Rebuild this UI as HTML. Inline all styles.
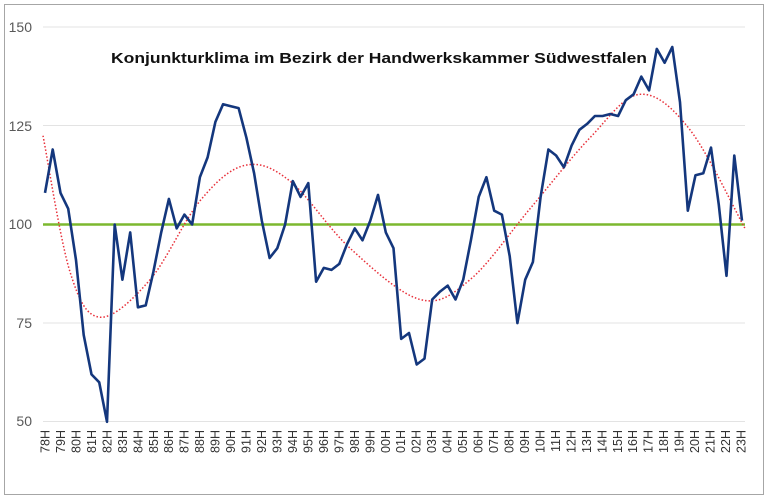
<!DOCTYPE html>
<html><head><meta charset="utf-8"><style>
html,body{margin:0;padding:0;background:#fff;}
svg{display:block;font-family:"Liberation Sans",sans-serif;}
</style></head><body>
<svg id="c" width="768" height="500" viewBox="0 0 768 500" xmlns="http://www.w3.org/2000/svg">
<rect x="4.5" y="4.5" width="759" height="490" fill="#fff" stroke="#a6a6a6" stroke-width="1"/>
<g stroke="#e3e3e3" stroke-width="1">
<line x1="43" y1="27" x2="745" y2="27"/>
<line x1="43" y1="125.5" x2="745" y2="125.5"/>
<line x1="43" y1="323" x2="745" y2="323"/>
<line x1="43" y1="421.5" x2="745" y2="421.5"/>
</g>
<g fill="#595959" font-size="14" text-anchor="end">
<text x="32" y="32">150</text>
<text x="32" y="131">125</text>
<text x="32" y="229">100</text>
<text x="32" y="328">75</text>
<text x="32" y="426">50</text>
</g>
<line x1="43" y1="224.5" x2="745" y2="224.5" stroke="#7cb82f" stroke-width="2.5"/>
<text x="379" y="63" text-anchor="middle" font-size="15" font-weight="bold" fill="#111" textLength="536" lengthAdjust="spacingAndGlyphs">Konjunkturklima im Bezirk der Handwerkskammer Südwestfalen</text>
<g id="labels" fill="#333" font-size="12.5"></g>
<path id="trend" fill="none" stroke="#e8303a" stroke-width="1.5" stroke-dasharray="1.5,2"/>
<polyline id="line" fill="none" stroke="#14377d" stroke-width="2.6" stroke-linejoin="round"/>
</svg>
<script>
var v=[108,119,108,104,91,72,62,60,50,100,86,98,79,79.5,88,98,106.5,99,102.5,100,112,117,126,130.5,130,129.5,122,113,101,91.5,94,100,111,107,110.5,85.5,89,88.5,90,95,99,96,101,107.5,98,94,71,72.5,64.5,66,81,83,84.5,81,86,96,107,112,103.5,102.5,92,75,86,90.5,107,119,117.5,114.5,120,124,125.5,127.5,127.5,128,127.5,131.5,133,137.5,134,144.5,141,145,131,103.5,112.5,113,119.5,105,87,117.5,101];
function Y(a){return 224.5-(a-100)*3.945;}
var n=v.length,dx=(742-45)/(n-1),p=[];
for(var i=0;i<n;i++)p.push((45+i*dx).toFixed(1)+","+Y(v[i]).toFixed(1));
document.getElementById('line').setAttribute('points',p.join(' '));
var t=[[43,122.5],[70,88],[100,76.5],[150,86],[200,106],[245,115],[290,111],[350,94],[420,81],[470,86],[530,104],[590,122],[640,133],[690,124],[745,99]];
var P=t.map(function(q){return [q[0],Y(q[1])];});
var d="M"+P[0][0]+","+P[0][1];
for(var i=0;i<P.length-1;i++){var p0=P[Math.max(0,i-1)],p1=P[i],p2=P[i+1],p3=P[Math.min(P.length-1,i+2)];
d+=" C"+(p1[0]+(p2[0]-p0[0])/6)+","+(p1[1]+(p2[1]-p0[1])/6)+" "+(p2[0]-(p3[0]-p1[0])/6)+","+(p2[1]-(p3[1]-p1[1])/6)+" "+p2[0]+","+p2[1];}
document.getElementById('trend').setAttribute('d',d);
var g=document.getElementById('labels'),s="";
for(var k=0;k<46;k++){var yr=(78+k)%100;var lab=(yr<10?"0":"")+yr+"H";var x=45+k*(696/45)+4.5;
s+='<text transform="translate('+x.toFixed(1)+',430) rotate(-90)" text-anchor="end">'+lab+'</text>';}
g.innerHTML=s;
</script>
</body></html>
